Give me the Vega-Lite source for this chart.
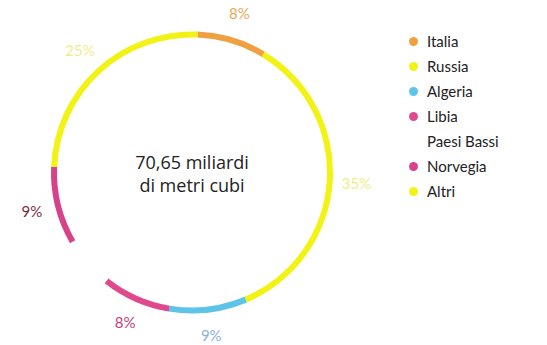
{
  "$schema": "https://vega.github.io/schema/vega-lite/v6.json",
  "width": 384,
  "height": 345,
  "padding": {"left": 0, "top": 0, "right": 163, "bottom": 0},
  "autosize": "none",
  "background": "white",
  "view": {"stroke": null},
  "config": {"font": "Lato"},
  "data": {"values": [
    {"paese": "Italia", "quota": 8, "ord": 1, "etichetta": "8%"},
    {"paese": "Russia", "quota": 35, "ord": 2, "etichetta": "35%"},
    {"paese": "Algeria", "quota": 9, "ord": 3, "etichetta": "9%"},
    {"paese": "Libia", "quota": 8, "ord": 4, "etichetta": "8%"},
    {"paese": "Paesi Bassi", "quota": 6, "ord": 5, "etichetta": ""},
    {"paese": "Norvegia", "quota": 9, "ord": 6, "etichetta": "9%"},
    {"paese": "Altri", "quota": 25, "ord": 7, "etichetta": "25%"}
  ]},
  "encoding": {
    "theta": {"field": "quota", "type": "quantitative", "stack": true, "scale": {"range": [0.04, 6.3232]}},
    "order": {"field": "ord", "type": "quantitative"}
  },
  "layer": [
    {
      "mark": {"type": "arc", "outerRadius": 141, "innerRadius": 135},
      "encoding": {
        "color": {
          "field": "paese", "type": "nominal",
          "scale": {
            "domain": ["Italia", "Russia", "Algeria", "Libia", "Paesi Bassi", "Norvegia", "Altri"],
            "range": ["#F0A040", "#F2F214", "#5CC4E6", "#E04A8C", "#FFFFFF", "#D8428A", "#F2F214"]
          },
          "legend": {
            "title": null,
            "orient": "none",
            "legendX": 406,
            "legendY": 34,
            "symbolType": "circle",
            "symbolSize": 80,
            "symbolStrokeWidth": 0,
            "labelFontSize": 15,
            "labelColor": "#222222",
            "labelFont": "Lato",
            "rowPadding": 9,
            "labelOffset": 6,
            "labelLimit": 200
          }
        }
      }
    },
    {
      "mark": {"type": "text", "radius": 165, "fontSize": 15, "font": "Lato"},
      "encoding": {
        "text": {"field": "etichetta"},
        "color": {
          "field": "paese", "type": "nominal",
          "scale": {
            "domain": ["Italia", "Russia", "Algeria", "Libia", "Paesi Bassi", "Norvegia", "Altri"],
            "range": ["#EBAA55", "#EEEE88", "#8EB3DA", "#C8407A", "#FFFFFF", "#7B2A45", "#EEEE88"]
          },
          "legend": null
        }
      }
    },
    {
      "data": {"values": [{"testo": "70,65 miliardi"}]},
      "mark": {"type": "text", "fontSize": 18, "color": "#222222", "font": "Open Sans", "dy": -9},
      "encoding": {"text": {"field": "testo"}, "theta": null, "order": null}
    },
    {
      "data": {"values": [{"testo": "di metri cubi"}]},
      "mark": {"type": "text", "fontSize": 18, "color": "#222222", "font": "Open Sans", "dy": 14},
      "encoding": {"text": {"field": "testo"}, "theta": null, "order": null}
    }
  ],
  "resolve": {"scale": {"color": "independent"}}
}
